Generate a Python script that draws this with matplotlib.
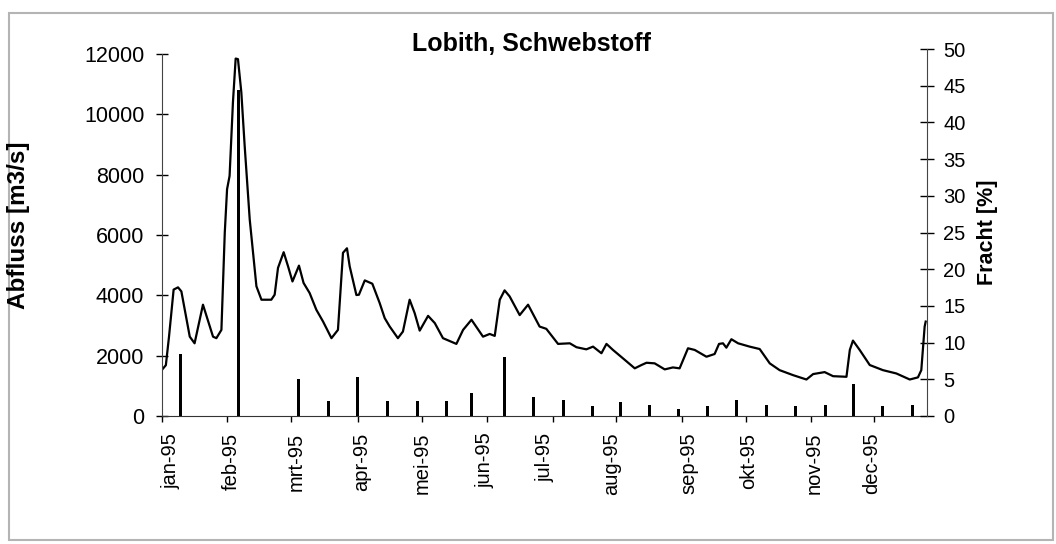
import numpy as np
import matplotlib.pyplot as plt
from matplotlib.patches import Rectangle

plt.rcParams['font.family'] = ['Liberation Sans', 'DejaVu Sans']

# Abfluss (Tag im Jahr 1995, m3/s)
tage = [0, 2, 3.5, 5.7, 7.8, 9.4, 13.4, 15.7, 19.7, 24.5, 26.1, 28.5, 30.1, 31.2,
        32.4, 34.0, 35.3, 36.4, 38.0, 39.6, 42.0, 45.2, 47.6, 52.3, 53.9, 55.5,
        58.2, 60.3, 62.4, 65.5, 67.7, 70.6, 73.8, 77.0, 81.0, 84.1, 86.5, 88.4,
        89.7, 92.9, 94.1, 96.9, 100.5, 104.0, 106.4, 108.8, 112.7, 115.1, 118.3,
        120.7, 123.1, 127.1, 130.3, 134.2, 140.6, 143.8, 147.8, 153.3, 156.5,
        158.9, 161.3, 163.6, 166.0, 170.8, 174.8, 180.3, 183.5, 189.1, 194.7,
        197.9, 202.6, 205.8, 209.8, 212.2, 215.3, 220.1, 225.7, 228.9, 231.3,
        235.2, 240.0, 243.9, 247.1, 251.1, 254.3, 259.9, 263.8, 265.9, 267.8,
        269.4, 271.8, 275.0, 280.5, 285.3, 290.1, 294.8, 301.2, 307.6, 310.8,
        316.3, 320.3, 326.7, 328.3, 329.8, 333.0, 337.8, 344.1, 350.5, 356.9,
        360.8, 362.4, 364.0, 364.5]
abfluss = [1520, 1685, 2630, 4190, 4265, 4130, 2630, 2410, 3690, 2630, 2580, 2855,
           6075, 7520, 7960, 10400, 11850, 11830, 10730, 8950, 6520, 4300, 3855,
           3855, 4020, 4910, 5430, 4960, 4460, 4985, 4410, 4075, 3520, 3130, 2580,
           2855, 5410, 5560, 4960, 4010, 4020, 4495, 4385, 3745, 3245, 2965, 2580,
           2800, 3855, 3410, 2830, 3320, 3080, 2580, 2390, 2855, 3190, 2630, 2720,
           2655, 3855, 4165, 3965, 3345, 3690, 2965, 2890, 2390, 2410, 2280, 2210,
           2300, 2080, 2390, 2190, 1910, 1580, 1690, 1765, 1745, 1545, 1610, 1580,
           2245, 2190, 1965, 2055, 2390, 2410, 2265, 2545, 2410, 2300, 2220, 1745,
           1520, 1355, 1210, 1390, 1455, 1320, 1300, 2190, 2500, 2190, 1690, 1520,
           1410, 1210, 1280, 1520, 2965, 3130]

# Fracht [%] (halbmonatlich)
fracht_tage = [9.1, 36.7, 65.4, 79.7, 93.5, 107.8, 122.1, 136.0, 147.9, 163.6,
               177.5, 191.8, 205.6, 219.0, 232.8, 246.7, 260.5, 274.3, 288.6,
               302.5, 316.8, 330.2, 344.0, 358.3]
fracht = [8.4, 44.4, 5.0, 2.0, 5.3, 2.0, 2.0, 2.0, 3.1, 8.1, 2.6, 2.2, 1.4, 1.9,
          1.5, 1.0, 1.4, 2.2, 1.5, 1.4, 1.5, 4.3, 1.3, 1.5]

monate = ['jan-95', 'feb-95', 'mrt-95', 'apr-95', 'mei-95', 'jun-95', 'jul-95',
          'aug-95', 'sep-95', 'okt-95', 'nov-95', 'dec-95']
monat_label_tage = [4.3, 33.4, 64.4, 95.4, 124.5, 154.1, 182.7, 214.7, 251.4,
                    280.1, 311.1, 338.7]
monat_strich_tage = [0, 31.3, 61.9, 93.7, 124.4, 155, 186.5, 216.6, 248, 279,
                     309.6, 340]

fig = plt.figure(figsize=(10.56, 5.44), dpi=100)
fig.patches.append(Rectangle((9 / 1056, 4 / 544), 1044 / 1056, 527 / 544,
                             transform=fig.transFigure, fill=False,
                             edgecolor='#b4b4b4', lw=1.5))

ax = fig.add_axes([0.1531, 0.2353, 0.7245, 0.6746])
ax2 = ax.twinx()

ax.plot(tage, abfluss, color='black', lw=1.6)
ax2.bar(fracht_tage, fracht, width=1.4, color='black')

ax.set_xlim(0, 365)
ax.set_ylim(0, 12166)
ax2.set_ylim(0, 50)
ax.set_yticks(np.arange(0, 12001, 2000))
ax2.set_yticks(np.arange(0, 51, 5))

ax.set_xticks(monat_label_tage, monate, rotation=90, va='top')
ax.set_xticks(monat_strich_tage, minor=True)
ax.tick_params(axis='x', which='major', length=0, pad=12, labelsize=14.5)
ax.tick_params(axis='x', which='minor', length=4, width=1, direction='out')
ax.tick_params(axis='y', direction='inout', length=9, width=1, pad=8, labelsize=15.5)
ax2.tick_params(axis='y', direction='inout', length=10, width=1, pad=7, labelsize=14.5)

for s in ['top', 'right']:
    ax.spines[s].set_visible(False)
for s in ['top', 'left', 'bottom']:
    ax2.spines[s].set_visible(False)
ax.spines['left'].set_bounds(0, 12000)
ax.spines['left'].set_color('#444444')
ax2.spines['right'].set_color('#444444')
ax.spines['bottom'].set_color('#333333')

fig.text(531 / 1056, 1 - 44 / 544, 'Lobith, Schwebstoff', ha='center', va='center',
         fontsize=18, fontweight='bold')
fig.text(19 / 1056, 1 - 225 / 544, 'Abfluss [m3/s]', ha='center', va='center',
         rotation=90, fontsize=17.5, fontweight='bold')
fig.text(987 / 1056, 1 - 232 / 544, 'Fracht [%]', ha='center', va='center',
         rotation=90, fontsize=15.5, fontweight='bold')

plt.savefig('out.png', dpi=100)
